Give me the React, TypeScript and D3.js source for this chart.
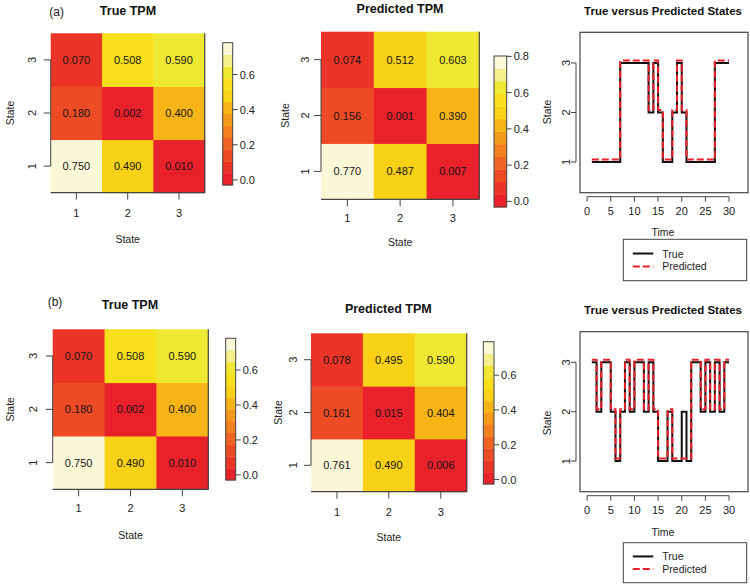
import React from "react";
import * as d3 from "d3";

// ---------- data ----------
const stateLabels = [1, 2, 3];
// rows = y state (1..3, bottom to top), columns = x state (1..3)
const trueTPM_a = [
  [0.750, 0.490, 0.010],
  [0.180, 0.002, 0.400],
  [0.070, 0.508, 0.590],
];
const predTPM_a = [
  [0.770, 0.487, 0.007],
  [0.156, 0.001, 0.390],
  [0.074, 0.512, 0.603],
];
const trueTPM_b = [
  [0.750, 0.490, 0.010],
  [0.180, 0.002, 0.400],
  [0.070, 0.508, 0.590],
];
const predTPM_b = [
  [0.761, 0.490, 0.006],
  [0.161, 0.015, 0.404],
  [0.078, 0.495, 0.590],
];

const timeSteps = [1, 2, 3, 4, 5, 6, 7, 8, 9, 10, 11, 12, 13, 14, 15, 16, 17, 18, 19, 20, 21, 22, 23, 24, 25, 26, 27, 28, 29, 30];
const trueStates_a = [1, 1, 1, 1, 1, 1, 3, 3, 3, 3, 3, 3, 2, 3, 2, 1, 1, 2, 3, 2, 1, 1, 1, 1, 1, 1, 3, 3, 3, 3];
const predStates_a = [1, 1, 1, 1, 1, 1, 3, 3, 3, 3, 3, 3, 2, 3, 2, 1, 1, 2, 3, 2, 1, 1, 1, 1, 1, 1, 3, 3, 3, 3];
const trueStates_b = [3, 2, 3, 3, 2, 1, 2, 3, 2, 3, 3, 2, 3, 2, 1, 1, 2, 1, 1, 2, 1, 3, 3, 2, 3, 2, 3, 2, 3, 3];
const predStates_b = [3, 2, 3, 3, 2, 1, 2, 3, 2, 3, 3, 2, 3, 2, 1, 1, 2, 1, 1, 1, 1, 3, 3, 2, 3, 2, 3, 2, 3, 3];

const timeTicks = [0, 5, 10, 15, 20, 25, 30];
const legendLabels = ["True", "Predicted"];

// heat.colors(12)-like palette, as printed
const palette = [
  "#E8212B", "#EA3427", "#EC4B25", "#EF6423", "#F27F20", "#F5991C",
  "#F7B417", "#F9D116", "#F7E01A", "#EFE833", "#F4EF8A", "#FBF8D8",
];

const FONT = "'Liberation Sans', Arial, Helvetica, sans-serif";
const AXIS = "#444";

type HeatProps = {
  matrix: number[][];
  x0: number; x1: number; y0: number; y1: number;
  bx0: number; bx1: number; by0: number; by1: number;
  title: string; tx: number; ty: number;
  xtY: number; xlabY: number; ylabX: number; ytX: number;
};

function Heat(p: HeatProps) {
  const flat = p.matrix.flat();
  const lo = d3.min(flat) as number;
  const hi = d3.max(flat) as number;
  const color = d3.scaleQuantize<string>().domain([lo, hi]).range(palette);
  const x = d3.scaleBand<number>().domain(stateLabels).range([p.x0, p.x1]);
  const y = d3.scaleBand<number>().domain(stateLabels).range([p.y1, p.y0]);
  const bin = (hi - lo) / palette.length;
  const bar = d3.scaleLinear().domain([lo - bin / 2, hi + bin / 2]).range([p.by1, p.by0]);
  const bh = (p.by1 - p.by0) / palette.length;
  const fmt = d3.format(".3f");
  const xcx = p.x0 + (p.x1 - p.x0) / 2;
  const ycy = p.y0 + (p.y1 - p.y0) / 2;
  return (
    <g fontFamily={FONT}>
      <text x={p.tx} y={p.ty} textAnchor="middle" dominantBaseline="central" fontWeight="bold" fontSize={12.5} fill="#111">{p.title}</text>
      {p.matrix.map((row, ri) =>
        row.map((v, ci) => (
          <g key={`${ri}-${ci}`}>
            <rect x={x(stateLabels[ci])} y={y(stateLabels[ri])} width={x.bandwidth() + 0.5} height={y.bandwidth() + 0.5} fill={color(v)} />
            <text x={(x(stateLabels[ci]) as number) + x.bandwidth() / 2} y={(y(stateLabels[ri]) as number) + y.bandwidth() / 2} textAnchor="middle" dominantBaseline="central" fontSize={11} fill="#151515">{fmt(v)}</text>
          </g>
        ))
      )}
      {/* frame: bottom & right */}
      <line x1={p.x0} x2={p.x1} y1={p.y1} y2={p.y1} stroke={AXIS} strokeWidth={1.2} />
      <line x1={p.x1} x2={p.x1} y1={p.y0} y2={p.y1} stroke={AXIS} strokeWidth={1.2} />
      {/* left axis */}
      <line x1={p.x0} x2={p.x0} y1={(y(3) as number) + y.bandwidth() / 2} y2={(y(1) as number) + y.bandwidth() / 2} stroke={AXIS} strokeWidth={1} />
      {stateLabels.map((s) => {
        const cy = (y(s) as number) + y.bandwidth() / 2;
        return (
          <g key={"yt" + s}>
            <line x1={p.x0 - 7} x2={p.x0} y1={cy} y2={cy} stroke={AXIS} />
            <text transform={`translate(${p.ytX},${cy}) rotate(-90)`} textAnchor="middle" dominantBaseline="central" fontSize={11} fill="#222">{s}</text>
          </g>
        );
      })}
      {stateLabels.map((s) => {
        const cx = (x(s) as number) + x.bandwidth() / 2;
        return (
          <g key={"xt" + s}>
            <line x1={cx} x2={cx} y1={p.y1} y2={p.y1 + 7} stroke={AXIS} />
            <text x={cx} y={p.xtY} textAnchor="middle" dominantBaseline="central" fontSize={11} fill="#222">{s}</text>
          </g>
        );
      })}
      <text x={xcx} y={p.xlabY} textAnchor="middle" dominantBaseline="central" fontSize={10.5} fill="#222">State</text>
      <text transform={`translate(${p.ylabX},${ycy}) rotate(-90)`} textAnchor="middle" dominantBaseline="central" fontSize={10.5} fill="#222">State</text>
      {/* colour bar */}
      {palette.map((c, i) => (
        <rect key={"b" + i} x={p.bx0} y={p.by1 - (i + 1) * bh} width={p.bx1 - p.bx0} height={bh + 0.4} fill={c} />
      ))}
      <rect x={p.bx0} y={p.by0} width={p.bx1 - p.bx0} height={p.by1 - p.by0} fill="none" stroke={AXIS} strokeWidth={1} />
      {bar.ticks(5).map((t) => (
        <g key={"bt" + t}>
          <line x1={p.bx1} x2={p.bx1 + 5} y1={bar(t)} y2={bar(t)} stroke={AXIS} />
          <text x={p.bx1 + 7} y={bar(t)} dominantBaseline="central" fontSize={11} fill="#222">{d3.format(".1f")(t)}</text>
        </g>
      ))}
    </g>
  );
}

type StepProps = {
  truth: number[]; pred: number[];
  x0: number; x1: number; y0: number; y1: number;
  ty: number; xtY: number; xlabY: number; ylabY: number;
  lx0: number; lx1: number; ly0: number; ly1: number;
};

function Steps(p: StepProps) {
  const x = d3.scaleLinear().domain([-1.5, 34]).range([p.x0, p.x1]);
  const y = d3.scaleLinear().domain([0.38, 3.62]).range([p.y1, p.y0]);
  const lineT = d3.line<number>().x((_, i) => x(timeSteps[i])).y((v) => y(v)).curve(d3.curveStepAfter);
  const lineP = d3.line<number>().x((_, i) => x(timeSteps[i])).y((v) => y(v + 0.05)).curve(d3.curveStepAfter);
  const axY = p.y1 + 4;
  const axX = p.x0 - 4;
  const legRow = (p.ly1 - p.ly0) / 3.2;
  return (
    <g fontFamily={FONT}>
      <text x={(p.x0 + p.x1) / 2 - 1} y={p.ty} textAnchor="middle" dominantBaseline="central" fontWeight="bold" fontSize={11.5} fill="#111">True versus Predicted States</text>
      <rect x={p.x0} y={p.y0} width={p.x1 - p.x0} height={p.y1 - p.y0} fill="none" stroke={AXIS} strokeWidth={1.2} />
      <path d={lineT(p.truth) as string} fill="none" stroke="#111" strokeWidth={2} />
      <path d={lineP(p.pred) as string} fill="none" stroke="#E8212B" strokeWidth={2} strokeDasharray="7,3" />
      {/* x axis */}
      <line x1={x(timeTicks[0])} x2={x(timeTicks[timeTicks.length - 1])} y1={axY} y2={axY} stroke={AXIS} />
      {timeTicks.map((t) => (
        <g key={"x" + t}>
          <line x1={x(t)} x2={x(t)} y1={axY} y2={axY + 5} stroke={AXIS} />
          <text x={x(t)} y={p.xtY} textAnchor="middle" dominantBaseline="central" fontSize={11} fill="#222">{t}</text>
        </g>
      ))}
      <text x={(p.x0 + p.x1) / 2 - 1} y={p.xlabY} textAnchor="middle" dominantBaseline="central" fontSize={10.5} fill="#222">Time</text>
      {/* y axis */}
      <line x1={axX} x2={axX} y1={y(1)} y2={y(3)} stroke={AXIS} />
      {stateLabels.map((s) => (
        <g key={"y" + s}>
          <line x1={axX - 5} x2={axX} y1={y(s)} y2={y(s)} stroke={AXIS} />
          <text transform={`translate(${axX - 10},${y(s)}) rotate(-90)`} textAnchor="middle" dominantBaseline="central" fontSize={11} fill="#222">{s}</text>
        </g>
      ))}
      <text transform={`translate(${p.x0 - 33},${p.ylabY}) rotate(-90)`} textAnchor="middle" dominantBaseline="central" fontSize={10.5} fill="#222">State</text>
      {/* legend */}
      <rect x={p.lx0} y={p.ly0} width={p.lx1 - p.lx0} height={p.ly1 - p.ly0} fill="#fff" stroke={AXIS} strokeWidth={1} />
      {legendLabels.map((lab, i) => {
        const cy = p.ly0 + legRow * (1.1 + i);
        return (
          <g key={lab}>
            <line x1={p.lx0 + 9.5} x2={p.lx0 + 30} y1={cy} y2={cy} stroke={i === 0 ? "#111" : "#E8212B"} strokeWidth={2} strokeDasharray={i === 0 ? undefined : "7,3"} />
            <text x={p.lx0 + 39} y={cy} dominantBaseline="central" fontSize={10.5} fill="#222">{lab}</text>
          </g>
        );
      })}
    </g>
  );
}

export default function App() {
  return (
    <svg width={750} height={587} style={{ position: "absolute", left: 0, top: 0, background: "#fff" }}>
      <rect width={750} height={587} fill="#fff" />
      <text x={56.7} y={12} textAnchor="middle" dominantBaseline="central" fontFamily={FONT} fontSize={12} fill="#222">(a)</text>
      <text x={55} y={302} textAnchor="middle" dominantBaseline="central" fontFamily={FONT} fontSize={12} fill="#222">(b)</text>

      <Heat matrix={trueTPM_a} x0={50.7} x1={204.7} y0={33.3} y1={192.7}
        bx0={222.7} bx1={232.7} by0={42.7} by1={185}
        title="True TPM" tx={128} ty={11} xtY={213} xlabY={239} ylabX={10} ytX={32} />
      <Heat matrix={predTPM_a} x0={321} x1={479.3} y0={31.7} y1={199.3}
        bx0={494} bx1={506.7} by0={56} by1={207}
        title="Predicted TPM" tx={400} ty={9} xtY={218} xlabY={241.7} ylabX={285} ytX={305} />
      <Steps truth={trueStates_a} pred={predStates_a} x0={580} x1={748} y0={32.3} y1={192.7}
        ty={11} xtY={210.7} xlabY={232} ylabY={112}
        lx0={623.3} lx1={746.7} ly0={239.3} ly1={280.7} />

      <Heat matrix={trueTPM_b} x0={52.7} x1={208.3} y0={329.3} y1={489.3}
        bx0={225.7} bx1={235.7} by0={338.3} by1={480}
        title="True TPM" tx={130} ty={305} xtY={508.3} xlabY={535} ylabX={10} ytX={33} />
      <Heat matrix={predTPM_b} x0={311} x1={466.7} y0={333.3} y1={491.7}
        bx0={483.3} bx1={494} by0={341.7} by1={484}
        title="Predicted TPM" tx={388.3} ty={309} xtY={511.7} xlabY={537.3} ylabX={278.3} ytX={293.3} />
      <Steps truth={trueStates_b} pred={predStates_b} x0={580} x1={748} y0={331.7} y1={491.7}
        ty={310} xtY={510} xlabY={531.7} ylabY={423}
        lx0={623.3} lx1={746.7} ly0={542.7} ly1={582.7} />
    </svg>
  );
}
